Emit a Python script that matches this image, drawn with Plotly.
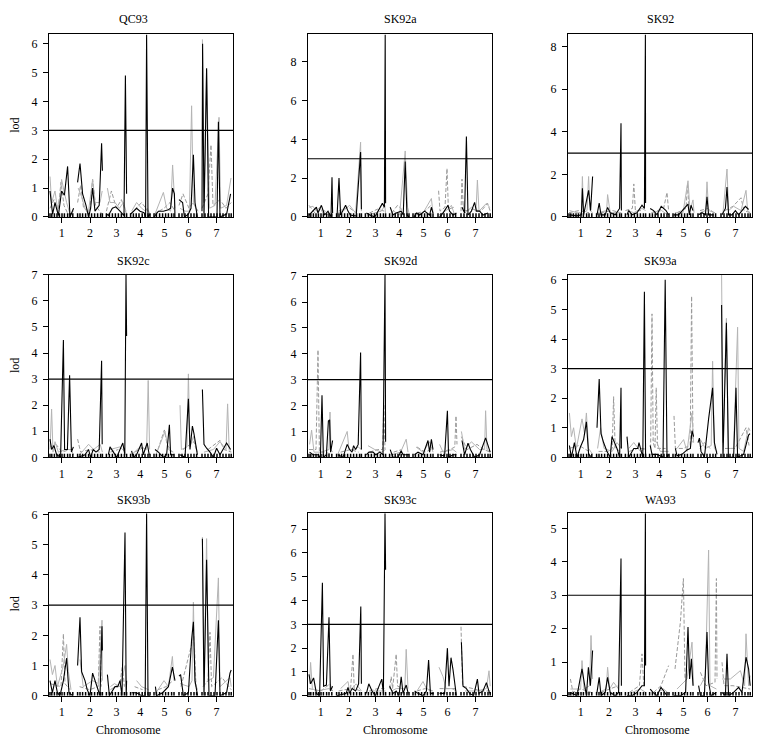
import plotly.graph_objects as go

# ---------------- genetic map ----------------
CHR_NAMES = ["1", "2", "3", "4", "5", "6", "7"]
CHR_LEN = [118, 124, 101, 97, 105, 95, 146]   # cM
GAP = 20                                        # cM between chromosomes
MARKERS = {
    1: [0, 9, 22, 35, 47, 60, 72, 88, 100, 114],
    2: [0, 12, 25, 40, 55, 70, 85, 100, 115, 124],
    3: [0, 15, 30, 45, 60, 75, 90, 101],
    4: [0, 14, 28, 42, 58, 72, 87, 97],
    5: [0, 12, 28, 43, 58, 72, 88, 100],
    6: [0, 15, 30, 45, 60, 75, 88],
    7: [0, 15, 30, 45, 60, 75, 90, 105, 120, 135, 146],
}
THRESHOLD = 3
RUG_FRACTION = 0.02   # rug tick height as a fraction of the lod axis

# ---------------- LOD profiles: (chromosome, cM, lod) ----------------
QC93_black = [(1,0,0.9),(1,13,0.1),(1,25,0.5),(1,42,0.05),(1,58,0.9),(1,72,0.75),(1,88,1.75),(1,100,0.0),(1,118,0.3),
 (2,0,1.2),(2,12,1.85),(2,25,0.8),(2,42,0.4),(2,55,0.0),(2,65,0.3),(2,75,1.0),(2,87,0.2),(2,108,0.4),(2,120,2.55),(2,124,1.6),
 (3,0,0.1),(3,10,0.05),(3,30,0.3),(3,47,0.35),(3,68,0.2),(3,88,0.05),(3,95,4.9),(3,101,0.8),
 (4,0,0.1),(4,30,0.3),(4,47,0.2),(4,67,0.15),(4,75,0.0),(4,80,6.32),(4,87,0.0),(4,97,0.1),
 (5,0,0.0),(5,22,0.2),(5,47,0.2),(5,72,0.25),(5,83,0.3),(5,93,1.0),(5,102,0.8),(5,105,0.0),
 (6,0,0.6),(6,18,0.5),(6,27,0.0),(6,47,0.1),(6,60,0.3),(6,72,2.15),(6,80,0.5),(6,92,0.0),
 (7,0,0.2),(7,3,6.0),(7,10,0.0),(7,23,5.15),(7,33,0.0),(7,57,0.0),(7,75,0.0),(7,82,3.3),(7,90,0.0),(7,123,0.1),(7,143,0.8)]
QC93_gray = [(1,0,1.4),(1,8,0.5),(1,25,0.9),(1,37,0.3),(1,50,0.7),(1,58,1.3),(1,70,0.9),(1,83,0.5),(1,100,0.1),(1,118,0.2),
 (2,3,1.0),(2,20,0.7),(2,37,0.3),(2,53,0.1),(2,75,1.3),(2,87,0.5),(2,112,0.5),(2,123,0.9),
 (3,5,1.0),(3,18,0.5),(3,43,0.5),(3,65,0.3),(3,85,0.5),(3,98,0.2),
 (4,5,0.2),(4,30,0.5),(4,55,0.3),(4,75,0.2),(4,83,0.3),(4,97,0.1),
 (5,5,0.1),(5,47,0.85),(5,63,0.3),(5,83,0.2),(5,93,1.8),(5,105,0.3),
 (6,5,0.3),(6,30,0.2),(6,52,0.2),(6,63,3.85),(6,72,0.5),(6,92,0.2),
 (7,2,6.15),(7,10,0.5),(7,23,5.1),(7,37,0.3),(7,65,0.4),(7,85,3.45),(7,93,0.3),(7,123,0.4),(7,145,1.35)]
QC93_dash = [(1,0,0.3),(1,20,0.6),(1,40,0.2),(1,55,1.2),(1,70,0.4),(1,90,0.1),(1,118,0.1),
 (2,0,0.5),(2,15,1.1),(2,30,0.3),(2,60,0.2),(2,75,1.3),(2,90,0.4),(2,110,0.2),(2,124,0.1),
 (3,0,0.2),(3,25,0.9),(3,50,0.3),(3,75,0.6),(3,101,0.1),
 (4,0,0.1),(4,30,0.3),(4,55,0.5),(4,97,0.1),
 (5,0,0.1),(5,50,0.3),(5,80,0.5),(5,105,0.2),
 (6,0,0.4),(6,20,0.8),(6,50,0.3),(6,70,0.5),(6,95,0.2),
 (7,0,0.3),(7,30,0.8),(7,45,2.5),(7,55,0.4),(7,90,0.6),(7,120,0.3),(7,146,0.5)]

SK92a_black = [(1,0,0.1),(1,20,0.3),(1,37,0.5),(1,45,0.2),(1,62,0.6),(1,78,0.1),(1,95,0.3),(1,110,0.0),(1,115,2.05),(1,118,0.2),
 (2,2,0.0),(2,12,2.0),(2,20,0.1),(2,45,0.6),(2,57,0.3),(2,68,0.1),(2,98,0.05),(2,120,3.35),(2,124,0.4),
 (3,5,0.2),(3,22,0.1),(3,47,0.0),(3,63,0.3),(3,85,0.7),(3,95,0.5),(3,99,9.4),(3,101,0.7),
 (4,3,0.5),(4,17,0.1),(4,33,0.2),(4,58,0.3),(4,68,0.1),(4,78,2.85),(4,87,0.1),(4,97,0.0),
 (5,5,0.0),(5,17,0.2),(5,33,0.1),(5,58,0.3),(5,83,0.1),(5,92,0.5),(5,100,0.2),
 (6,8,0.0),(6,25,0.2),(6,50,0.6),(6,58,0.3),(6,75,0.1),(6,92,0.2),
 (7,5,0.5),(7,18,0.2),(7,27,4.15),(7,35,0.1),(7,52,0.3),(7,68,0.75),(7,77,0.3),(7,93,0.3),(7,110,0.1),(7,135,0.2)]
SK92a_gray = [(1,0,0.5),(1,20,0.55),(1,37,0.3),(1,53,0.5),(1,70,0.2),(1,103,0.1),(1,118,0.1),
 (2,5,0.2),(2,32,0.3),(2,65,0.6),(2,95,0.2),(2,120,3.85),(2,124,0.3),
 (3,10,0.1),(3,45,0.2),(3,80,0.3),(3,97,0.6),(3,101,0.2),
 (4,5,0.2),(4,20,0.3),(4,50,0.1),(4,78,3.4),(4,90,0.5),(4,97,0.2),
 (5,10,0.1),(5,50,0.2),(5,92,0.95),(5,100,0.2),
 (6,5,0.1),(6,50,0.4),(6,67,0.6),(6,80,0.2),
 (7,8,0.8),(7,20,0.2),(7,52,0.5),(7,75,0.3),(7,82,1.9),(7,90,0.3),(7,127,0.7),(7,143,0.5)]
SK92a_dash = [(1,0,0.6),(1,30,0.2),(1,60,0.4),(1,100,0.2),
 (2,10,0.3),(2,60,0.5),(2,100,0.2),
 (3,20,0.2),(3,60,0.4),(3,95,0.3),
 (4,10,0.2),(4,40,0.6),(4,70,0.3),
 (5,20,0.2),(5,60,0.3),(5,90,0.6),
 (6,3,1.35),(6,10,0.3),(6,35,0.5),(6,45,2.5),(6,52,0.4),(6,80,0.5),
 (7,0,0.3),(7,5,1.95),(7,12,0.3),(7,60,0.4),(7,100,0.3),(7,133,0.7),(7,146,0.3)]

SK92_black = [(1,3,0.1),(1,40,0.05),(1,62,0.1),(1,67,1.35),(1,73,0.1),(1,87,0.8),(1,98,1.25),(1,108,0.3),(1,118,1.9),
 (2,2,0.1),(2,13,0.65),(2,22,0.1),(2,43,0.1),(2,55,0.45),(2,68,0.2),(2,93,0.1),(2,115,0.4),(2,122,4.4),(2,124,0.3),
 (3,8,0.1),(3,17,0.3),(3,33,0.1),(3,58,0.2),(3,83,0.55),(3,95,0.4),(3,100,8.57),(3,101,0.65),
 (4,3,0.4),(4,20,0.3),(4,37,0.1),(4,58,0.5),(4,70,0.4),(4,82,0.3),(4,95,0.1),
 (5,3,0.1),(5,28,0.1),(5,75,0.6),(5,82,0.1),(5,90,0.55),(5,100,0.3),
 (6,3,0.1),(6,20,0.2),(6,37,0.1),(6,45,0.95),(6,53,0.1),(6,78,0.1),
 (7,5,0.1),(7,22,0.4),(7,30,1.4),(7,38,0.1),(7,55,0.1),(7,72,0.3),(7,88,0.1),(7,122,0.5),(7,138,0.35)]
SK92_gray = [(1,3,0.3),(1,40,0.2),(1,62,0.2),(1,67,1.9),(1,73,0.2),(1,90,0.3),(1,98,1.9),(1,105,0.3),(1,118,0.2),
 (2,5,0.2),(2,50,0.3),(2,55,1.05),(2,68,0.2),(2,110,0.2),(2,124,0.2),
 (3,10,0.3),(3,42,0.2),(3,83,0.4),(3,101,0.3),
 (4,10,0.2),(4,60,0.3),(4,90,0.1),
 (5,10,0.2),(5,50,0.2),(5,75,1.7),(5,85,0.3),(5,100,0.8),(5,105,0.2),
 (6,10,0.2),(6,38,0.3),(6,45,1.65),(6,53,0.3),(6,85,0.2),
 (7,10,0.2),(7,30,2.25),(7,38,0.3),(7,63,0.5),(7,100,0.3),(7,125,1.25),(7,133,0.3),(7,146,0.2)]
SK92_dash = [(1,0,0.2),(1,50,0.3),(1,100,0.2),
 (2,20,0.2),(2,80,0.3),(2,120,0.2),
 (3,0,0.3),(3,35,0.4),(3,42,1.55),(3,50,0.3),(3,80,0.3),
 (4,10,0.2),(4,70,0.4),(4,87,1.15),(4,95,0.3),
 (5,20,0.2),(5,65,0.4),(5,73,1.6),(5,80,0.3),
 (6,10,0.3),(6,50,0.4),(6,80,0.2),
 (7,20,0.3),(7,60,0.5),(7,100,0.9),(7,115,0.3),(7,146,0.2)]

SK92c_black = [(1,0,0.7),(1,8,0.3),(1,20,0.45),(1,33,0.1),(1,53,0.0),(1,67,4.5),(1,73,0.3),(1,87,0.3),(1,98,3.15),(1,107,0.2),(1,117,0.4),
 (2,3,0.0),(2,37,0.1),(2,55,0.3),(2,65,0.0),(2,78,0.3),(2,92,0.2),(2,108,0.3),(2,120,3.7),(2,123,0.5),
 (3,10,0.1),(3,18,0.4),(3,35,0.2),(3,52,0.0),(3,68,0.3),(3,82,0.55),(3,92,0.1),(3,98,7.0),(3,101,4.65),
 (4,5,0.25),(4,13,0.0),(4,30,0.1),(4,55,0.55),(4,63,0.1),(4,83,0.55),(4,93,0.1),
 (5,5,0.3),(5,22,0.2),(5,47,0.0),(5,63,0.1),(5,77,1.25),(5,83,0.1),(5,100,0.1),
 (6,5,0.1),(6,30,0.0),(6,47,2.25),(6,55,0.3),(6,67,1.2),(6,75,0.9),(6,92,0.1),
 (7,2,2.6),(7,10,0.5),(7,23,0.35),(7,40,0.2),(7,57,0.0),(7,73,0.35),(7,90,0.1),(7,123,0.55),(7,143,0.3)]
SK92c_gray = [(1,0,0.3),(1,8,1.85),(1,15,0.2),(1,25,0.6),(1,42,0.2),(1,80,0.3),(1,105,0.3),(1,118,0.1),
 (2,10,0.1),(2,55,0.5),(2,80,0.3),(2,113,0.5),(2,124,0.2),
 (3,18,0.3),(3,68,0.4),(3,95,0.2),
 (4,5,0.1),(4,47,0.4),(4,80,0.3),(4,88,2.95),(4,95,0.3),
 (5,10,0.1),(5,55,1.0),(5,72,0.3),(5,97,0.2),
 (6,5,2.0),(6,12,0.3),(6,40,0.4),(6,47,3.2),(6,55,0.4),(6,72,0.8),(6,92,0.2),
 (7,10,0.2),(7,57,0.3),(7,90,0.6),(7,120,0.3),(7,128,2.05),(7,136,0.3),(7,146,0.2)]
SK92c_dash = [(1,0,0.4),(1,30,0.5),(1,60,0.2),(1,100,0.3),
 (2,0,0.7),(2,15,0.2),(2,60,0.3),(2,110,0.2),
 (3,20,0.2),(3,60,0.3),
 (4,20,0.2),(4,70,0.4),
 (5,20,0.3),(5,52,1.05),(5,65,0.5),(5,90,0.2),
 (6,20,0.3),(6,75,0.6),(6,90,0.2),
 (7,30,0.3),(7,90,0.65),(7,110,0.3),(7,146,0.2)]

SK92d_black = [(1,3,0.2),(1,20,0.1),(1,45,0.1),(1,57,0.0),(1,65,2.4),(1,72,0.0),(1,87,0.1),(1,97,1.4),(1,103,1.45),(1,108,0.2),(1,118,0.65),
 (2,7,0.1),(2,32,0.0),(2,53,0.5),(2,65,0.3),(2,77,0.2),(2,85,0.45),(2,95,0.3),(2,108,0.5),(2,120,4.05),(2,124,0.3),
 (3,5,0.1),(3,18,0.2),(3,38,0.2),(3,52,0.1),(3,72,0.2),(3,88,0.1),(3,98,7.05),(3,101,0.6),
 (4,3,0.3),(4,17,0.0),(4,42,0.0),(4,58,0.25),(4,67,0.1),(4,83,0.1),(4,97,0.1),
 (5,8,0.1),(5,25,0.2),(5,50,0.1),(5,75,0.65),(5,83,0.2),(5,92,0.7),(5,100,0.3),
 (6,8,0.1),(6,33,0.05),(6,47,1.8),(6,53,0.0),(6,75,0.1),(6,92,0.1),
 (7,5,0.65),(7,18,0.1),(7,35,0.55),(7,47,0.3),(7,68,0.0),(7,93,0.1),(7,123,0.75),(7,135,0.5),(7,146,0.2)]
SK92d_gray = [(1,3,0.5),(1,13,1.05),(1,25,0.2),(1,60,0.2),(1,100,0.3),(1,105,1.75),(1,110,0.3),(1,118,0.2),
 (2,5,0.1),(2,53,1.0),(2,62,0.3),(2,90,0.3),(2,108,0.4),(2,124,0.3),
 (3,13,0.45),(3,47,0.3),(3,80,0.2),(3,101,0.3),
 (4,10,0.1),(4,55,0.2),(4,83,0.7),(4,92,0.2),
 (5,15,0.4),(5,50,0.2),(5,83,0.6),(5,100,0.2),
 (6,8,0.5),(6,25,0.2),(6,75,0.3),(6,92,0.2),
 (7,2,1.0),(7,18,0.3),(7,52,0.6),(7,93,0.3),(7,118,0.3),(7,123,1.8),(7,130,0.3),(7,146,0.2)]
SK92d_dash = [(1,0,0.3),(1,35,0.3),(1,45,4.15),(1,52,0.2),(1,80,0.2),(1,118,0.1),
 (2,20,0.2),(2,70,0.3),(2,110,0.2),
 (3,20,0.2),(3,60,0.3),(3,86,0.3),(3,92,2.05),(3,98,0.3),
 (4,20,0.2),(4,60,0.3),
 (5,20,0.4),(5,60,0.2),(5,90,0.3),
 (6,10,0.2),(6,60,0.3),(6,84,0.4),(6,90,1.6),(6,95,0.5),
 (7,2,0.8),(7,30,0.3),(7,80,0.5),(7,115,0.3),(7,146,0.2)]

SK93a_black = [(1,2,0.4),(1,12,0.0),(1,27,0.5),(1,40,0.0),(1,57,0.35),(1,73,0.6),(1,87,1.2),(1,98,0.1),(1,115,0.0),
 (2,2,1.0),(2,13,2.65),(2,22,0.8),(2,35,0.5),(2,52,0.2),(2,68,0.0),(2,77,0.7),(2,90,0.5),(2,102,0.3),(2,115,0.0),(2,122,2.35),(2,124,0.3),
 (3,8,0.7),(3,17,0.0),(3,42,0.3),(3,62,0.3),(3,68,0.5),(3,77,0.3),(3,87,0.0),(3,95,5.6),(3,101,0.0),
 (4,3,0.4),(4,12,0.1),(4,37,0.1),(4,67,0.0),(4,78,6.0),(4,87,0.0),(4,95,0.1),
 (5,12,0.3),(5,20,0.05),(5,45,0.1),(5,70,0.25),(5,87,0.3),(5,95,0.9),(5,103,0.7),
 (6,0,0.5),(6,7,0.65),(6,15,0.2),(6,32,0.0),(6,53,1.3),(6,63,1.75),(6,73,2.35),(6,82,0.5),(6,95,0.1),
 (7,3,5.15),(7,10,0.0),(7,27,4.55),(7,37,0.0),(7,63,0.0),(7,75,2.35),(7,83,0.0),(7,113,0.1),(7,138,0.75),(7,145,0.8)]
SK93a_gray = [(1,2,1.5),(1,12,0.7),(1,23,1.0),(1,37,0.3),(1,65,1.3),(1,78,0.8),(1,87,1.5),(1,98,0.3),(1,118,0.1),
 (2,5,0.3),(2,20,1.0),(2,37,0.3),(2,78,0.2),(2,102,0.5),(2,124,0.3),
 (3,17,0.3),(3,42,0.5),(3,75,0.2),(3,101,0.3),
 (4,12,0.6),(4,37,0.5),(4,53,0.2),(4,95,0.2),
 (5,20,0.3),(5,53,0.6),(5,70,0.2),(5,95,1.5),(5,103,0.5),
 (6,12,0.6),(6,37,0.3),(6,66,0.4),(6,73,3.25),(6,82,0.3),(6,95,0.2),
 (7,3,6.17),(7,10,0.5),(7,27,4.7),(7,37,0.3),(7,63,0.3),(7,83,4.4),(7,90,0.3),(7,113,0.2),(7,138,1.0),(7,145,0.9)]
SK93a_dash = [(1,0,0.3),(1,50,0.4),(1,100,0.2),
 (2,10,0.2),(2,60,0.2),(2,78,0.3),(2,85,2.05),(2,93,0.3),(2,120,0.2),
 (3,20,0.2),(3,60,0.3),(3,95,0.3),
 (4,5,0.3),(4,12,4.85),(4,18,0.5),(4,27,0.3),(4,33,2.35),(4,40,0.3),(4,80,0.3),
 (5,5,1.4),(5,12,0.3),(5,50,0.3),(5,86,0.4),(5,93,5.45),(5,100,0.5),
 (6,10,0.3),(6,32,0.5),(6,60,0.3),
 (7,20,0.3),(7,70,0.3),(7,125,1.0),(7,140,0.4)]

SK93b_black = [(1,0,0.5),(1,12,0.1),(1,25,0.5),(1,37,0.1),(1,50,0.0),(1,67,0.5),(1,83,1.25),(1,95,0.1),(1,113,0.0),
 (2,0,1.0),(2,12,2.6),(2,20,0.8),(2,37,0.5),(2,48,0.2),(2,62,0.0),(2,75,0.75),(2,87,0.5),(2,98,0.3),(2,112,0.0),(2,122,2.3),(2,124,1.5),
 (3,5,0.7),(3,15,0.0),(3,43,0.3),(3,57,0.3),(3,68,0.5),(3,78,0.0),(3,93,5.4),(3,99,0.0),(3,101,0.5),
 (4,5,0.1),(4,30,0.1),(4,55,0.0),(4,73,0.0),(4,80,6.04),(4,87,0.0),(4,97,0.0),
 (5,7,0.3),(5,13,0.0),(5,43,0.1),(5,72,0.3),(5,92,0.95),(5,105,0.5),
 (6,0,0.65),(6,8,0.7),(6,22,0.0),(6,47,0.1),(6,63,1.85),(6,72,2.45),(6,80,0.5),(6,93,0.0),
 (7,2,5.2),(7,10,0.0),(7,23,4.5),(7,35,0.0),(7,65,0.0),(7,82,2.5),(7,90,0.0),(7,123,0.1),(7,140,0.75),(7,146,0.85)]
SK93b_gray = [(1,0,1.2),(1,12,0.7),(1,25,1.0),(1,37,0.3),(1,67,1.0),(1,83,1.7),(1,92,0.8),(1,105,0.2),
 (2,12,1.2),(2,28,0.3),(2,75,0.5),(2,105,0.4),(2,122,2.5),(2,124,0.5),
 (3,20,0.3),(3,40,0.4),(3,68,0.3),(3,93,1.0),(3,101,0.2),
 (4,30,0.5),(4,55,0.3),(4,90,0.2),
 (5,10,0.1),(5,50,0.5),(5,72,0.3),(5,92,1.3),(5,100,0.5),
 (6,5,0.4),(6,50,0.3),(6,65,0.5),(6,72,3.1),(6,80,0.4),(6,93,0.2),
 (7,2,5.25),(7,10,0.3),(7,23,5.2),(7,32,0.5),(7,57,0.6),(7,82,3.9),(7,90,0.3),(7,140,0.6),(7,146,0.3)]
SK93b_dash = [(1,0,0.4),(1,55,0.3),(1,67,2.05),(1,75,0.4),(1,100,0.2),
 (2,10,0.3),(2,60,0.2),(2,103,0.3),(2,112,2.3),(2,118,0.3),
 (3,20,0.2),(3,68,0.4),(3,80,1.0),(3,90,0.3),
 (4,20,0.3),(4,60,0.2),
 (5,20,0.2),(5,60,0.3),(5,95,0.5),
 (6,10,0.3),(6,75,2.0),(6,85,0.3),
 (7,5,0.3),(7,30,0.5),(7,40,2.1),(7,48,0.3),(7,100,0.6),(7,146,0.2)]

SK93c_black = [(1,0,0.9),(1,8,0.5),(1,23,0.75),(1,37,0.1),(1,53,0.0),(1,67,4.75),(1,73,0.4),(1,87,0.45),(1,100,3.3),(1,107,0.2),(1,118,0.4),
 (2,2,0.0),(2,48,0.1),(2,57,0.35),(2,65,0.1),(2,78,0.3),(2,95,0.2),(2,110,0.5),(2,121,3.75),(2,124,0.5),
 (3,5,0.1),(3,17,0.5),(3,33,0.2),(3,50,0.0),(3,63,0.3),(3,82,0.7),(3,90,0.1),(3,98,7.67),(3,101,5.3),
 (4,0,0.4),(4,17,0.1),(4,33,0.2),(4,47,0.0),(4,58,0.8),(4,67,0.1),(4,83,0.45),(4,93,0.1),
 (5,8,0.2),(5,25,0.1),(5,50,0.0),(5,67,0.2),(5,78,1.5),(5,87,0.1),(5,103,0.1),
 (6,8,0.1),(6,33,0.1),(6,47,2.0),(6,55,0.4),(6,65,1.6),(6,75,1.1),(6,92,0.0),
 (7,2,2.25),(7,10,0.4),(7,27,0.3),(7,43,0.1),(7,63,0.0),(7,82,0.7),(7,90,0.1),(7,110,0.2),(7,127,0.55),(7,143,0.1)]
SK93c_gray = [(1,3,0.5),(1,8,1.4),(1,17,0.3),(1,37,0.2),(1,100,0.3),(1,118,0.2),
 (2,20,0.3),(2,57,0.6),(2,65,0.2),(2,98,0.5),(2,124,0.2),
 (3,20,0.2),(3,72,0.2),(3,101,0.2),
 (4,10,0.2),(4,33,0.3),(4,76,0.3),(4,83,1.95),(4,92,0.3),
 (5,20,0.2),(5,50,0.6),(5,67,0.3),(5,100,0.2),
 (6,5,1.2),(6,25,0.8),(6,40,0.3),(6,70,0.3),(6,92,0.2),
 (7,20,0.2),(7,80,0.2),(7,127,0.3),(7,140,1.05),(7,146,0.4)]
SK93c_dash = [(1,0,0.3),(1,60,0.2),(1,105,0.5),(1,118,0.2),
 (2,10,0.2),(2,70,0.3),(2,82,1.75),(2,88,0.3),(2,120,0.2),
 (3,20,0.2),(3,60,0.3),(3,95,0.3),
 (4,0,0.3),(4,8,0.8),(4,15,0.3),(4,33,1.75),(4,40,0.4),(4,70,0.3),
 (5,20,0.2),(5,60,0.3),(5,95,0.2),
 (6,8,0.3),(6,50,0.3),(6,92,0.3),
 (7,0,2.9),(7,8,0.4),(7,60,0.3),(7,100,0.2),(7,146,0.2)]

WA93_black = [(1,7,0.1),(1,40,0.0),(1,65,0.8),(1,77,0.3),(1,87,0.0),(1,97,0.85),(1,107,0.3),(1,118,1.35),
 (2,2,0.1),(2,13,0.55),(2,22,0.0),(2,43,0.1),(2,55,0.55),(2,68,0.1),(2,93,0.0),(2,110,0.1),(2,122,4.1),(2,124,0.3),
 (3,8,0.0),(3,33,0.0),(3,58,0.1),(3,83,0.3),(3,95,0.3),(3,100,5.45),(3,101,0.9),
 (4,3,0.2),(4,17,0.1),(4,37,0.0),(4,57,0.25),(4,70,0.15),(4,87,0.0),
 (5,3,0.0),(5,37,0.0),(5,63,0.1),(5,75,2.05),(5,83,0.5),(5,92,1.1),(5,100,0.3),
 (6,3,0.3),(6,12,0.0),(6,32,0.0),(6,45,1.9),(6,53,0.4),(6,65,0.0),(6,92,0.1),
 (7,5,0.1),(7,22,0.0),(7,30,1.25),(7,38,0.0),(7,63,0.1),(7,88,0.25),(7,105,0.1),(7,125,1.15),(7,138,0.8),(7,146,0.3)]
WA93_gray = [(1,7,0.2),(1,58,0.2),(1,65,1.05),(1,75,0.2),(1,103,0.3),(1,110,1.8),(1,118,0.5),
 (2,10,0.1),(2,48,0.2),(2,55,0.85),(2,65,0.2),(2,85,0.4),(2,110,0.2),
 (3,33,0.1),(3,75,0.2),(3,101,0.1),
 (4,37,0.1),(4,70,0.2),(4,90,0.1),
 (5,20,0.2),(5,70,0.5),(5,95,1.6),(5,103,0.3),
 (6,12,0.3),(6,37,0.6),(6,53,4.35),(6,60,0.3),(6,92,0.2),
 (7,5,0.5),(7,47,0.5),(7,97,0.75),(7,118,0.3),(7,125,1.85),(7,138,0.3),(7,146,0.6)]
WA93_dash = [(1,7,0.5),(1,20,0.1),(1,60,0.2),(1,110,0.1),
 (2,20,0.1),(2,70,0.2),(2,110,0.3),
 (3,20,0.1),(3,70,0.3),(3,83,1.25),(3,92,0.3),
 (4,20,0.1),(4,57,0.3),(4,95,0.9),
 (5,10,0.8),(5,37,2.2),(5,52,3.5),(5,60,0.5),
 (6,12,0.7),(6,40,0.3),(6,85,0.4),(6,92,3.5),(6,95,0.5),
 (7,5,1.0),(7,15,0.3),(7,60,0.3),(7,146,0.2)]

PANEL_TITLES = ["QC93", "SK92a", "SK92", "SK92c", "SK92d", "SK93a", "SK93b", "SK93c", "WA93"]
PANEL_SERIES = [
    (QC93_black, QC93_gray, QC93_dash), (SK92a_black, SK92a_gray, SK92a_dash), (SK92_black, SK92_gray, SK92_dash),
    (SK92c_black, SK92c_gray, SK92c_dash), (SK92d_black, SK92d_gray, SK92d_dash), (SK93a_black, SK93a_gray, SK93a_dash),
    (SK93b_black, SK93b_gray, SK93b_dash), (SK93c_black, SK93c_gray, SK93c_dash), (WA93_black, WA93_gray, WA93_dash),
]
PANEL_YMAX = [6.32, 9.4, 8.57, 7.0, 7.05, 6.17, 6.04, 7.67, 5.45]
PANEL_DTICK = [1, 2, 2, 1, 1, 1, 1, 1, 1]

# ---------------- layout geometry ----------------
W, H = 758, 741
COL_PX = [(49, 233), (308, 492), (568, 752)]
ROW_PX = [(28, 214), (273, 459), (516, 702)]
TITLE_X = [133, 400, 660]
TITLE_Y = [12, 259, 503]
XLAB_X = [128, 395, 657]
FONT = "Liberation Serif"

chr_start = []
acc = 0
for L in CHR_LEN:
    chr_start.append(acc)
    acc += L + GAP
chr_mid = [s + L / 2 for s, L in zip(chr_start, CHR_LEN)]
x_range = [-5, chr_start[-1] + CHR_LEN[-1] + 9]


def to_xy(points):
    xs, ys, prev = [], [], None
    for c, p, l in points:
        if prev is not None and c != prev:
            xs.append(None)
            ys.append(None)
        xs.append(chr_start[c - 1] + p)
        ys.append(l)
        prev = c
    return xs, ys


marker_x = [chr_start[c - 1] + p for c in MARKERS for p in MARKERS[c]]

fig = go.Figure()
styles = [
    dict(color="#9a9a9a", width=1, dash="4px,2px"),  # dashed gray (drawn first)
    dict(color="#b4b4b4", width=1),                   # solid gray
    dict(color="black", width=1.1),                   # black
]

for i in range(9):
    r, c = divmod(i, 3)
    n = i + 1
    xa = "x" if n == 1 else f"x{n}"
    ya = "y" if n == 1 else f"y{n}"
    black, gray, dash = PANEL_SERIES[i]
    for pts, st in zip((dash, gray, black), styles):
        xs, ys = to_xy(pts)
        fig.add_trace(go.Scatter(x=xs, y=ys, mode="lines", line=st, xaxis=xa, yaxis=ya,
                                 showlegend=False, hoverinfo="skip", connectgaps=False))
    # marker rug: short vertical ticks rising from lod = 0
    rug_h = PANEL_YMAX[i] * RUG_FRACTION
    rx, ry = [], []
    for mx in marker_x:
        rx += [mx, mx, None]
        ry += [0, rug_h, None]
    fig.add_trace(go.Scatter(x=rx, y=ry, mode="lines", line=dict(color="black", width=1.5),
                             xaxis=xa, yaxis=ya, showlegend=False, hoverinfo="skip"))
    fig.add_shape(type="line", xref=f"{xa} domain", x0=0, x1=1, yref=ya, y0=THRESHOLD, y1=THRESHOLD,
                  line=dict(color="black", width=1.1), layer="above")

    x0, x1 = COL_PX[c]
    y0, y1 = ROW_PX[r]
    axis_common = dict(showline=True, mirror=True, linecolor="black", linewidth=1, showgrid=False,
                       zeroline=False, ticks="outside", ticklen=5, tickwidth=1, tickcolor="black",
                       tickfont=dict(family=FONT, size=12, color="black"))
    xkey = "xaxis" if n == 1 else f"xaxis{n}"
    ykey = "yaxis" if n == 1 else f"yaxis{n}"
    fig.layout[xkey] = dict(domain=[x0 / W, x1 / W], range=x_range, anchor=ya,
                            tickmode="array", tickvals=chr_mid, ticktext=CHR_NAMES, **axis_common)
    fig.layout[ykey] = dict(domain=[1 - y1 / H, 1 - y0 / H], range=[0, PANEL_YMAX[i]], anchor=xa,
                            dtick=PANEL_DTICK[i], tick0=0, ticklabelstandoff=3, **axis_common)

    fig.add_annotation(text=PANEL_TITLES[i], xref="paper", yref="paper", x=TITLE_X[c] / W, y=1 - TITLE_Y[r] / H,
                       showarrow=False, font=dict(family=FONT, size=12, color="black"),
                       xanchor="center", yanchor="middle")
    if c == 0:
        fig.add_annotation(text="lod", xref="paper", yref="paper", x=15 / W, y=1 - (y0 + y1) / 2 / H,
                           showarrow=False, textangle=-90, font=dict(family=FONT, size=12, color="black"),
                           xanchor="center", yanchor="middle")
    if r == 2:
        fig.add_annotation(text="Chromosome", xref="paper", yref="paper", x=XLAB_X[c] / W, y=1 - 737 / H,
                           showarrow=False, font=dict(family=FONT, size=12, color="black"),
                           xanchor="center", yanchor="middle")

fig.update_layout(width=W, height=H, margin=dict(l=0, r=0, t=0, b=0),
                  paper_bgcolor="white", plot_bgcolor="white", showlegend=False)
fig.write_html("out.html")
